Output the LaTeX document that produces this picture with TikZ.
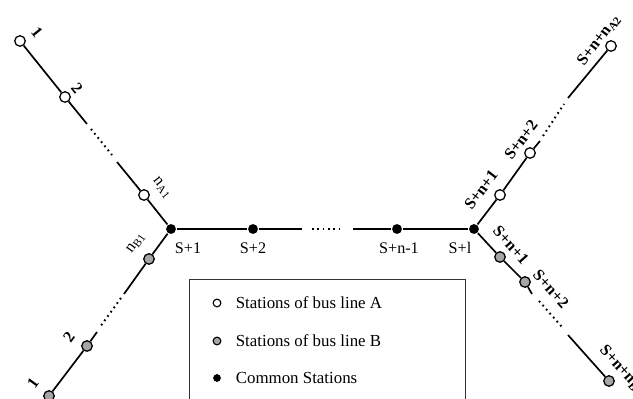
\documentclass[tikz,border=0pt]{standalone}
\usepackage{fontspec}
\setmainfont{Liberation Serif}
\usetikzlibrary{positioning}

\begin{document}
\begin{tikzpicture}[x=0.025cm, y=-0.025cm, line width=1.2pt,
    stA/.style={circle, draw, fill=white, line width=0.9pt, inner sep=0pt, minimum size=7.5pt},
    stB/.style={circle, draw, fill=gray!70, line width=0.9pt, inner sep=0pt, minimum size=7.5pt},
    stC/.style={circle, fill=black, inner sep=0pt, minimum size=7pt},
    gap/.style={line width=1.4pt, dash pattern=on 1.2pt off 2.6pt},
    lbl/.style={font=\fontsize{11.5}{13}\selectfont, inner sep=0pt},
    blbl/.style={font=\fontsize{11.5}{13}\selectfont\bfseries, inner sep=0pt}]

    \useasboundingbox (0,0) rectangle (633,399);

    % Common stations (middle)
    \node[stC] (c1) at (171,229) {};
    \node[stC] (c2) at (253,229) {};
    \node[stC] (cn) at (397,229) {};
    \node[stC] (cl) at (474,229) {};
    \coordinate (cg1) at (302,229);
    \coordinate (cg2) at (312,229);
    \coordinate (cg3) at (343,229);
    \coordinate (cg4) at (353,229);

    \draw (c1) -- (c2) -- (cg1);
    \draw[gap] (cg2) -- (cg3);
    \draw (cg4) -- (cn) -- (cl);

    \node[lbl] (lc1) at (188,248) {S+1};
    \node[lbl] (lc2) at (253,248) {S+2};
    \node[lbl] (lcn) at (399,248) {S+n-1};
    \node[lbl] (lcl) at (460,248) {S+l};

    % Bus line A (upper left)
    \node[stA] (a1) at (20,41) {};
    \node[stA] (a2) at (65,97) {};
    \node[stA] (an) at (144,195) {};
    \coordinate (ag1) at (87,124);
    \coordinate (ag2) at (91,129);
    \coordinate (ag3) at (112,155);
    \coordinate (ag4) at (117,162);

    \draw (a1) -- (a2) -- (ag1);
    \draw[gap] (ag2) -- (ag3);
    \draw (ag4) -- (an) -- (c1);

    \node[blbl, rotate=-51] (la1) at (37,32) {1};
    \node[blbl, rotate=-51] (la2) at (77,88) {2};
    \node[lbl, rotate=-51] (lan) at (162,188) {n\textsubscript{A1}};

    % Bus line B (lower left)
    \node[stB] (b1) at (49,396) {};
    \node[stB] (b2) at (87,346) {};
    \node[stB] (bn) at (149,259) {};
    \coordinate (bg1) at (124,294);
    \coordinate (bg2) at (121,298);
    \coordinate (bg3) at (100,327);
    \coordinate (bg4) at (97,332);

    \draw (c1) -- (bn) -- (bg1);
    \draw[gap] (bg2) -- (bg3);
    \draw (bg4) -- (b2) -- (b1);

    \node[blbl, rotate=54] (lb1) at (33,383) {1};
    \node[blbl, rotate=54] (lb2) at (69,337) {2};
    \node[lbl, rotate=54] (lbn) at (136,243) {n\textsubscript{B1}};

    % Bus line A (upper right)
    \node[stA] (ra1) at (500,195) {};
    \node[stA] (ra2) at (530,153) {};
    \node[stA] (ran) at (611,46) {};
    \coordinate (rag1) at (540,141);
    \coordinate (rag2) at (543,136);
    \coordinate (rag3) at (564,104);
    \coordinate (rag4) at (568,98);

    \draw (cl) -- (ra1) -- (ra2) -- (rag1);
    \draw[gap] (rag2) -- (rag3);
    \draw (rag4) -- (ran);

    \node[blbl, rotate=53] (lra1) at (481,190) {S+n+1};
    \node[blbl, rotate=53] (lra2) at (521,140) {S+n+2};
    \node[blbl, rotate=53] (lran) at (599,40) {S+n+n\textsubscript{A2}};

    % Bus line B (lower right)
    \node[stB] (rb1) at (500,257) {};
    \node[stB] (rb2) at (525,282) {};
    \node[stB] (rbn) at (609,381) {};
    \coordinate (rbg1) at (532,294);
    \coordinate (rbg2) at (539,301);
    \coordinate (rbg3) at (562,327);
    \coordinate (rbg4) at (568,335);

    \draw (cl) -- (rb1) -- (rb2) -- (rbg1);
    \draw[gap] (rbg2) -- (rbg3);
    \draw (rbg4) -- (rbn);

    \node[blbl, rotate=-48] (lrb1) at (511,245) {S+n+1};
    \node[blbl, rotate=-48] (lrb2) at (551,289) {S+n+2};
    \node[blbl, rotate=-48] (lrbn) at (622,370) {S+n+n\textsubscript{B2}};

    % Legend
    \draw[line width=0.7pt, draw=black!80] (189,420) |- (465,279) -- (465,420);
    \node[stA, minimum size=5.5pt, line width=0.8pt] (kA) at (217,303) {};
    \node[stB, minimum size=5.5pt, line width=0.8pt] (kB) at (217,341) {};
    \node[stC, minimum size=5.5pt] (kC) at (217,378) {};
    \node[font=\fontsize{12}{14}\selectfont, anchor=west, inner sep=0pt] (tA) at (235,303) {Stations of bus line A};
    \node[font=\fontsize{12}{14}\selectfont, anchor=west, inner sep=0pt] (tB) at (235,341) {Stations of bus line B};
    \node[font=\fontsize{12}{14}\selectfont, anchor=west, inner sep=0pt] (tC) at (235,378) {Common Stations};

\end{tikzpicture}
\end{document}
